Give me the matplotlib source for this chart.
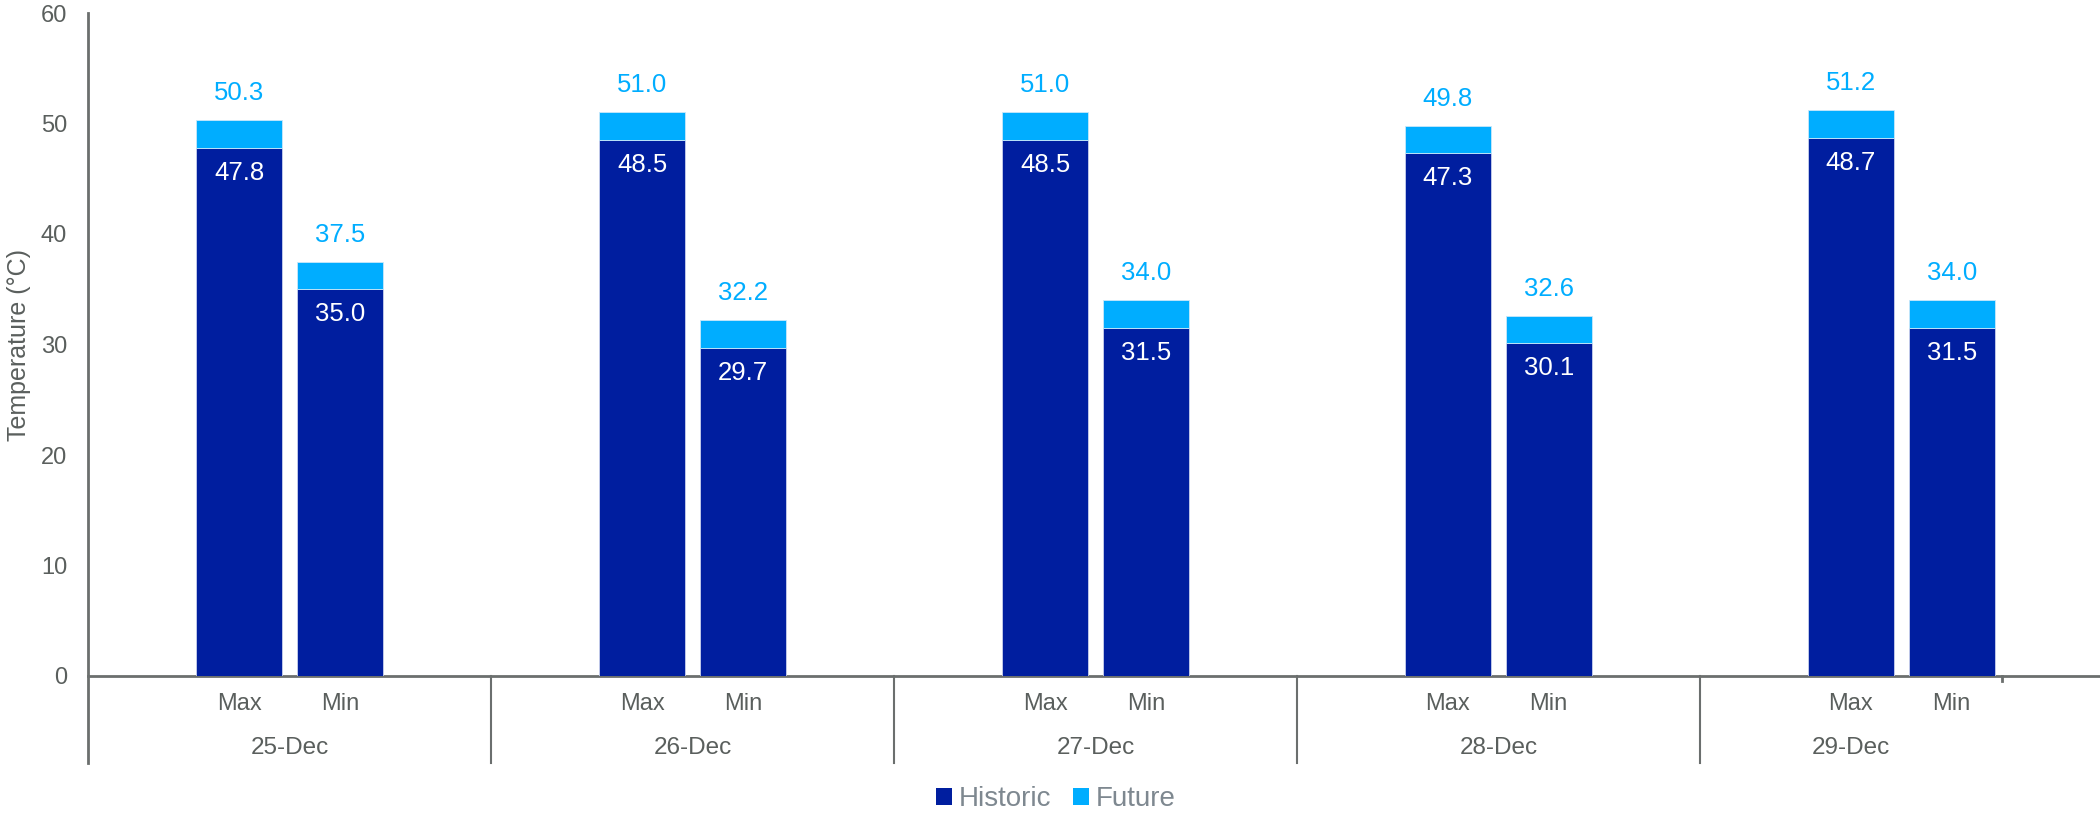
import matplotlib
matplotlib.use("Agg")
import matplotlib.pyplot as plt
from matplotlib.patches import Patch
import matplotlib.transforms as mtransforms

plt.rcParams['font.family'] = ['Liberation Sans', 'DejaVu Sans']

dates = ['25-Dec', '26-Dec', '27-Dec', '28-Dec', '29-Dec']
subcats = ['Max', 'Min']
historic_max = [47.8, 48.5, 48.5, 47.3, 48.7]
historic_min = [35.0, 29.7, 31.5, 30.1, 31.5]
total_max = [50.3, 51.0, 51.0, 49.8, 51.2]
total_min = [37.5, 32.2, 34.0, 32.6, 34.0]
yticks = [0, 10, 20, 30, 40, 50, 60]

DARK = '#001E9F'
LIGHT = '#00ADFF'
TICKC = '#5A5F5D'
AXC = '#6B6F6E'
LEGC = '#7E8890'

W, H = 2100, 816
fig = plt.figure(figsize=(W / 100, H / 100), dpi=100)
ax_left, ax_right, ax_top, ax_bot = 88, 2100, 13, 676
ax = fig.add_axes([ax_left / W, 1 - ax_bot / H, (ax_right - ax_left) / W, (ax_bot - ax_top) / H])

slot_px = 100.74
ax.set_xlim(0, (ax_right - ax_left) / slot_px)
ax.set_ylim(0, 60)

# build slots: each date group has blank, Max, Min, blank (last group no trailing blank)
xs, hist, fut, tot, labels = [], [], [], [], []
for i, d in enumerate(dates):
    for j, s in enumerate(subcats):
        x = 4 * i + 1 + j + 0.5
        h = historic_max[i] if s == 'Max' else historic_min[i]
        t = total_max[i] if s == 'Max' else total_min[i]
        xs.append(x)
        hist.append(h)
        tot.append(t)
        fut.append(round(t - h, 1))
        labels.append(s)

bw = 0.85
ax.bar(xs, hist, width=bw, color=DARK, edgecolor='#C8D0EC', linewidth=0.6, zorder=3)
ax.bar(xs, fut, bottom=hist, width=bw, color=LIGHT, edgecolor='#C8E8FA', linewidth=0.6, zorder=3)

for x, h, t in zip(xs, hist, tot):
    ax.annotate(f'{h:.1f}', (x, h), xytext=(0, -18), textcoords='offset points',
                ha='center', va='center', color='white', fontsize=18.5, zorder=4)
    ax.annotate(f'{t:.1f}', (x, t), xytext=(0, 19.5), textcoords='offset points',
                ha='center', va='center', color=LIGHT, fontsize=18.5, zorder=4)

# spines
for s in ['top', 'right', 'left']:
    ax.spines[s].set_visible(False)
ax.spines['bottom'].set_color(AXC)
ax.spines['bottom'].set_linewidth(2)

ax.set_yticks(yticks)
ax.set_yticklabels([str(v) for v in yticks])
ax.tick_params(axis='y', length=0, pad=15, labelsize=17, labelcolor=TICKC)
ax.set_xticks([])

ax_h = ax_bot - ax_top
sep_bottom = -(763 - ax_bot) / ax_h
trans = mtransforms.blended_transform_factory(ax.transData, ax.transAxes)

# y axis line extended downward
ax.plot([0, 0], [1, sep_bottom], transform=trans, color=AXC, lw=2, clip_on=False, zorder=5)
# group separators
for i in range(1, len(dates)):
    ax.plot([4 * i, 4 * i], [0, sep_bottom], transform=trans, color=AXC, lw=1.5, clip_on=False)
# short end tick
end_x = 4 * (len(dates) - 1) + 3
ax.plot([end_x, end_x], [0, -(681 - ax_bot) / ax_h], transform=trans, color=AXC, lw=2, clip_on=False)

# sub-category labels
for x, lab in zip(xs, labels):
    ax.text(x, -(704 - ax_bot) / ax_h, lab, transform=trans, ha='center', va='center',
            fontsize=17, color=TICKC)
# date labels
for i, d in enumerate(dates):
    start = 4 * i
    end = 4 * i + 4 if i < len(dates) - 1 else end_x
    ax.text((start + end) / 2, -(748 - ax_bot) / ax_h, d, transform=trans, ha='center',
            va='center', fontsize=17.5, color=TICKC)

ax.set_ylabel('Temperature (°C)', fontsize=18, color=TICKC, va='center')
ax.yaxis.set_label_coords(-(ax_left - 19) / (ax_right - ax_left), 0.5)

handles = [Patch(facecolor=DARK, label='Historic'), Patch(facecolor=LIGHT, label='Future')]
leg = fig.legend(handles=handles, loc='center', bbox_to_anchor=(1056 / W, 1 - 799 / H), ncol=2,
                 frameon=False, fontsize=20, handlelength=0.55, handleheight=0.55,
                 handletextpad=0.25, columnspacing=0.8, labelcolor=LEGC)

fig.savefig('out.png', dpi=100)
